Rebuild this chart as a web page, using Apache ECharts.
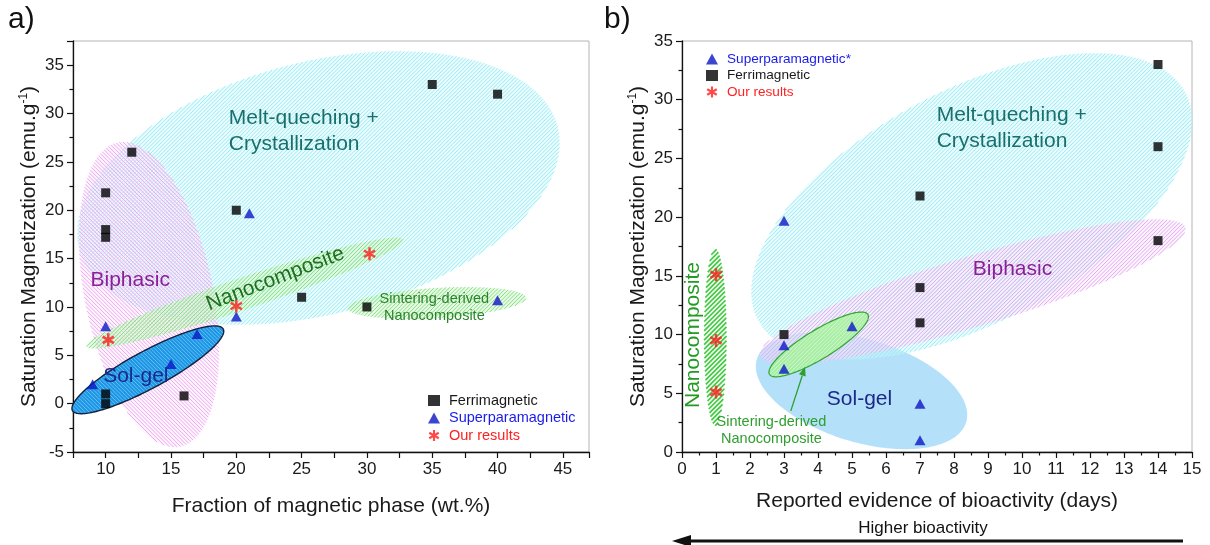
<!DOCTYPE html>
<html><head><meta charset="utf-8">
<script src="https://cdn.jsdelivr.net/npm/echarts@6/dist/echarts.min.js"></script>
<style>html,body{margin:0;padding:0;background:#fff}#c{width:1210px;height:545px}</style>
</head><body><div id="c"></div>
<script>
// ---------- Panel a data: [wt.% magnetic phase, Ms (emu/g)] ----------
const ferriA = [[12,26],[10,21.8],[10,18],[10,17.2],[20,20],[35,33],[40,32],[25,11],[30,10],[10,1],[10,0],[16,0.8]];
const superA = [[21,19.7],[10,8],[20,9],[17,7.2],[15,4.1],[9,2],[40,10.7]];
const oursA  = [[10.2,6.6],[20,10.1],[30.2,15.5]];
// ---------- Panel b data: [days, Ms (emu/g)] ----------
const ferriB = [[14,33],[14,26],[7,21.8],[14,18],[7,14],[7,11],[3,10]];
const superB = [[3,19.7],[3,9.1],[3,7.1],[5,10.7],[7,4.1],[7,1]];
const oursB  = [[1,15.1],[1,9.5],[1,5.1]];
// ---------- axis ranges and tick labels ----------
const xRangeA = [7.5, 47], yRangeA = [-5, 37.5];
const xRangeB = [0, 15],   yRangeB = [0, 35];
const xLabelsA = [10,15,20,25,30,35,40,45];
const yLabelsA = [-5,0,5,10,15,20,25,30,35];
const xLabelsB = [0,1,2,3,4,5,6,7,8,9,10,11,12,13,14,15];
const yLabelsB = [0,5,10,15,20,25,30,35];
// ---------- shaded regions (ellipses in data units: centre, two conjugate semi-axes) ----------
const regionsA = [
  {c:[26.29,22.3], u:[18.19,6.85],  v:[-3.15,12.37], s:'cyanA'},
  {c:[13.32,11.28],u:[-2.285,15.75],v:[-4.856,-1.04],s:'pinkA'},
  {c:[20.66,11.44],u:[12.12,5.53],  v:[-0.469,1.517],s:'greenA'},
  {c:[35.36,10.41],u:[6.82,0.54],   v:[-0.08,1.55],  s:'greenA'},
  {c:[13.23,3.5],  u:[5.755,4.25],  v:[-0.80,1.60],  s:'solgelA'}
];
const regionsB = [
  {c:[5.28,5.22],  u:[3.057,-2.854],v:[0.567,4.082], s:'solgelB'},
  {c:[8.52,20.92], u:[6.168,10.23], v:[-1.995,8.09], s:'cyanB'},
  {c:[8.55,13.66], u:[6.25,5.48],   v:[-0.367,2.807],s:'pinkB'},
  {c:[4.02,9.16],  u:[1.44,2.58],   v:[-0.26,0.976], s:'sinterB'},
  {c:[0.98,9.78],  u:[0,7.53],      v:[0.33,0],      s:'nanoB'}
];
// ---------- annotation texts (data positions) ----------
const textsA = [
  {t:'Melt-queching +', p:[19.43,29.5], k:'melt', a:'left'},
  {t:'Crystallization', p:[19.43,26.8], k:'melt', a:'left'},
  {t:'Biphasic', p:[8.84,12.76], k:'biph', a:'left'},
  {t:'Nanocomposite', p:[22.99,12.9], k:'nanoA', a:'center', r:21},
  {t:'Sol-gel', p:[12.31,2.85], k:'sol', a:'center'},
  {t:'Sintering-derived', p:[35.16,10.85], k:'sint', a:'center'},
  {t:'Nanocomposite', p:[35.16,9.05], k:'sint', a:'center'}
];
const textsB = [
  {t:'Melt-queching +', p:[7.49,28.72], k:'melt', a:'left'},
  {t:'Crystallization', p:[7.49,26.47], k:'melt', a:'left'},
  {t:'Biphasic', p:[9.72,15.53], k:'biph', a:'center'},
  {t:'Sol-gel', p:[5.22,4.48], k:'sol', a:'center'},
  {t:'Nanocomposite', p:[0.34,9.96], k:'nanoB', a:'center', r:90},
  {t:'Sintering-derived', p:[2.63,2.55], k:'sintB', a:'center'},
  {t:'Nanocomposite', p:[2.63,1.07], k:'sintB', a:'center'}
];
const arrowB = {from:[3.2,3.5], to:[3.62,7.25]};

// ---------- styling ----------
const FONT = '"Liberation Sans", Arial, Helvetica, sans-serif';
const regionStyles = {
  cyanA:  {fill:'rgba(212,249,252,0.45)', hatch:'#96edf3', dir:'/', step:3.8, lw:1},
  cyanB:  {fill:'rgba(212,249,252,0.45)', hatch:'#96edf3', dir:'/', step:3.8, lw:1},
  pinkA:  {fill:'rgba(250,228,250,0.40)', hatch:'#eeaaf0', dir:'\\', step:3.8, lw:1},
  pinkB:  {fill:'rgba(244,226,250,0.40)', hatch:'#e4acee', dir:'/', step:3.8, lw:1},
  greenA: {fill:'rgba(214,248,208,0.55)', hatch:'#86de86', dir:'/', step:3.8, lw:1},
  solgelA:{fill:'#1e96e6', hatch:'#64c0f4', dir:'\\', step:3.8, lw:1, stroke:'#15203a', sw:1.4},
  solgelB:{fill:'rgba(172,222,248,0.9)'},
  sinterB:{fill:'rgba(160,238,150,0.85)', hatch:'rgba(214,252,208,0.9)', dir:'/', step:3.8, lw:1, stroke:'#34a534', sw:1.2},
  nanoB:  {fill:'rgba(232,252,230,0.5)', hatch:'#42c842', dir:'/', step:4.6, lw:1.6}
};
const textStyles = {
  melt: {fill:'#17706d', fontSize:21},
  biph: {fill:'#8a1f98', fontSize:21},
  nanoA:{fill:'#1f6f1f', fontSize:21},
  nanoB:{fill:'#239a23', fontSize:21},
  sol:  {fill:'#1c288a', fontSize:21},
  sint: {fill:'#2a842a', fontSize:14.5},
  sintB:{fill:'#2f9e2f', fontSize:14.5}
};

// asterisk symbol path
function starPath() {
  const L = 10, w = 1.9; let d = '';
  [0,60,120].forEach(deg => {
    const a = deg*Math.PI/180, c = Math.cos(a), s = Math.sin(a);
    const pts = [[-w,-L],[w,-L],[w,L],[-w,L]].map(([x,y]) => [(x*c - y*s).toFixed(3), (x*s + y*c).toFixed(3)]);
    d += 'M' + pts.map(p => p.join(' ')).join('L') + 'Z';
  });
  return 'path://' + d;
}
const STAR = starPath();

// hatch lines clipped to a convex polygon (pixel space)
function hatchPath(pts, dir, step) {
  const sg = dir === '/' ? 1 : -1;
  const f = p => p[0] + sg*p[1];
  let lo = Infinity, hi = -Infinity;
  pts.forEach(p => { const v = f(p); if (v < lo) lo = v; if (v > hi) hi = v; });
  let d = '';
  for (let c = Math.ceil(lo/step)*step; c < hi; c += step) {
    const hits = [];
    for (let i = 0; i < pts.length; i++) {
      const p = pts[i], q = pts[(i+1) % pts.length];
      const fp = f(p) - c, fq = f(q) - c;
      if ((fp < 0 && fq >= 0) || (fp >= 0 && fq < 0)) {
        const t = fp / (fp - fq);
        hits.push([p[0] + t*(q[0]-p[0]), p[1] + t*(q[1]-p[1])]);
      }
    }
    if (hits.length >= 2) {
      hits.sort((a,b) => a[0]-b[0]);
      d += 'M' + hits[0][0].toFixed(2) + ' ' + hits[0][1].toFixed(2) + 'L' + hits[hits.length-1][0].toFixed(2) + ' ' + hits[hits.length-1][1].toFixed(2);
    }
  }
  return d;
}

function regionSeries(regions, gi) {
  return {
    type:'custom', xAxisIndex:gi, yAxisIndex:gi, silent:true, z:1, clip:false,
    data: regions.map((r,i) => [r.c[0], r.c[1], i]),
    encode:{x:0, y:1},
    renderItem: (params, api) => {
      const r = regions[api.value(2)], st = regionStyles[r.s];
      const pts = [];
      for (let k=0;k<180;k++){
        const t = k/180*2*Math.PI, ct = Math.cos(t), sn = Math.sin(t);
        pts.push(api.coord([r.c[0]+r.u[0]*ct+r.v[0]*sn, r.c[1]+r.u[1]*ct+r.v[1]*sn]));
      }
      const children = [{type:'polygon', shape:{points:pts}, style:{fill:st.fill}}];
      if (st.hatch) children.push({type:'path', shape:{pathData:hatchPath(pts, st.dir, st.step)},
        style:{fill:null, stroke:st.hatch, lineWidth:st.lw}});
      if (st.stroke) children.push({type:'polygon', shape:{points:pts}, style:{fill:null, stroke:st.stroke, lineWidth:st.sw}});
      return {type:'group', children};
    }
  };
}
function textSeries(texts, gi, arrow) {
  const data = texts.map((t,i) => [t.p[0], t.p[1], i]);
  if (arrow) data.push([arrow.to[0], arrow.to[1], -1]);
  return {
    type:'custom', xAxisIndex:gi, yAxisIndex:gi, silent:true, z:6, clip:false,
    data, encode:{x:0, y:1},
    renderItem: (params, api) => {
      const i = api.value(2);
      if (i < 0) {
        const p0 = api.coord(arrow.from), p1 = api.coord(arrow.to);
        const ang = Math.atan2(p1[1]-p0[1], p1[0]-p0[0]);
        const hl = 9, hw = 3.5;
        const bx = p1[0] - hl*Math.cos(ang), by = p1[1] - hl*Math.sin(ang);
        return {type:'group', children:[
          {type:'line', shape:{x1:p0[0], y1:p0[1], x2:bx, y2:by}, style:{stroke:'#2f9e2f', lineWidth:1.3}},
          {type:'polygon', shape:{points:[p1, [bx - hw*Math.sin(ang), by + hw*Math.cos(ang)], [bx + hw*Math.sin(ang), by - hw*Math.cos(ang)]]}, style:{fill:'#2f9e2f'}}
        ]};
      }
      const t = texts[i], p = api.coord(t.p), st = textStyles[t.k];
      return {type:'text', x:p[0], y:p[1], rotation:(t.r||0)*Math.PI/180,
        style:{text:t.t, fill:st.fill, fontSize:st.fontSize, fontFamily:FONT, align:t.a, verticalAlign:'middle'}};
    }
  };
}

function labelFmt(list) { return v => list.some(x => Math.abs(x - v) < 1e-6) ? String(v) : ''; }
const axisCommon = {
  type:'value', splitLine:{show:false},
  axisLine:{onZero:false, lineStyle:{color:'#111', width:1.3}},
  axisTick:{length:6, lineStyle:{color:'#111', width:1.2}},
  minorTick:{show:true, splitNumber:2, length:3.5, lineStyle:{color:'#111', width:1.2}},
  nameLocation:'middle',
  nameTextStyle:{fontSize:21, color:'#1a1a1a', fontFamily:FONT,
    rich:{sup:{fontSize:12, color:'#1a1a1a', fontFamily:FONT, verticalAlign:'top', padding:[0,0,10,0]}}}
};
function axis(extra, labels) {
  return Object.assign({}, axisCommon, extra, {
    axisLabel:{fontSize:17, color:'#1a1a1a', fontFamily:FONT, margin:9, formatter:labelFmt(labels), showMinLabel:true}
  });
}

const chart = echarts.init(document.getElementById('c'), null, {renderer:'canvas'});
chart.setOption({
  animation:false,
  backgroundColor:'#fff',
  grid:[
    {left:73, top:41, width:516, height:411, show:true, borderColor:'#b4b4b4', borderWidth:1},
    {left:682, top:41, width:510, height:411, show:true, borderColor:'#b4b4b4', borderWidth:1}
  ],
  xAxis:[
    axis({gridIndex:0, min:xRangeA[0], max:xRangeA[1], interval:2.5, minorTick:{show:false},
      name:'Fraction of magnetic phase (wt.%)', nameGap:44}, xLabelsA),
    axis({gridIndex:1, min:xRangeB[0], max:xRangeB[1], interval:1,
      name:'Reported evidence of bioactivity (days)', nameGap:39}, xLabelsB)
  ],
  yAxis:[
    axis({gridIndex:0, min:yRangeA[0], max:yRangeA[1], interval:5,
      name:'Saturation Magnetization (emu.g{sup|-1})', nameGap:33}, yLabelsA),
    axis({gridIndex:1, min:yRangeB[0], max:yRangeB[1], interval:5,
      name:'Saturation Magnetization (emu.g{sup|-1})', nameGap:33}, yLabelsB)
  ],
  legend:[
    {left:423, top:388, orient:'vertical', itemGap:2.5, itemWidth:12, itemHeight:11,
     textStyle:{fontSize:14.5, fontFamily:FONT, padding:[0,0,0,4]},
     data:[
       {name:'Ferrimagnetic', icon:'rect', textStyle:{color:'#1a1a1a'}},
       {name:'Superparamagnetic', icon:'triangle', textStyle:{color:'#1b1be8'}},
       {name:'Our results', icon:STAR, textStyle:{color:'#ff2020'}}
     ]},
    {left:701, top:47, orient:'vertical', itemGap:2.5, itemWidth:12, itemHeight:11,
     textStyle:{fontSize:13.6, fontFamily:FONT, padding:[0,0,0,4]},
     data:[
       {name:'Superparamagnetic*', icon:'triangle', textStyle:{color:'#1b1be8'}},
       {name:'Ferrimagnetic', icon:'rect', textStyle:{color:'#1a1a1a'}},
       {name:'Our results', icon:STAR, textStyle:{color:'#ff2020'}}
     ]}
  ],
  graphic:[
    {type:'text', left:8, top:5, style:{text:'a)', fontSize:30, fill:'#111', fontFamily:FONT}},
    {type:'text', left:604, top:5, style:{text:'b)', fontSize:30, fill:'#111', fontFamily:FONT}},
    {type:'text', x:923, y:528, style:{text:'Higher bioactivity', fontSize:17, fill:'#111', fontFamily:FONT, align:'center', verticalAlign:'middle'}},
    {type:'line', shape:{x1:688, y1:541, x2:1183, y2:541}, style:{stroke:'#111', lineWidth:3}},
    {type:'polygon', shape:{points:[[672,541],[691,535],[691,547]]}, style:{fill:'#111'}}
  ],
  series:[
    regionSeries(regionsA, 0),
    regionSeries(regionsB, 1),
    {type:'scatter', name:'Ferrimagnetic', xAxisIndex:0, yAxisIndex:0, data:ferriA, symbol:'rect', symbolSize:9, itemStyle:{color:'#000'}, z:5},
    {type:'scatter', name:'Superparamagnetic', xAxisIndex:0, yAxisIndex:0, data:superA, symbol:'triangle', symbolSize:[11,10], itemStyle:{color:'#0c16c4'}, z:5},
    {type:'scatter', name:'Our results', xAxisIndex:0, yAxisIndex:0, data:oursA, symbol:STAR, symbolSize:13, symbolKeepAspect:true, itemStyle:{color:'#ff1a1a'}, z:5},
    {type:'scatter', name:'Ferrimagnetic', xAxisIndex:1, yAxisIndex:1, data:ferriB, symbol:'rect', symbolSize:9, itemStyle:{color:'#000'}, z:5},
    {type:'scatter', name:'Superparamagnetic*', xAxisIndex:1, yAxisIndex:1, data:superB, symbol:'triangle', symbolSize:[11,10], itemStyle:{color:'#0c16c4'}, z:5},
    {type:'scatter', name:'Our results', xAxisIndex:1, yAxisIndex:1, data:oursB, symbol:STAR, symbolSize:13, symbolKeepAspect:true, itemStyle:{color:'#ff1a1a'}, z:5},
    textSeries(textsA, 0),
    textSeries(textsB, 1, arrowB)
  ]
});
</script></body></html>
